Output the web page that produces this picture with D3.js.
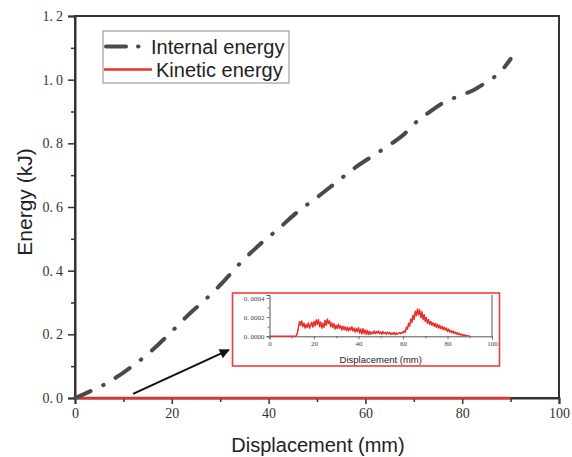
<!DOCTYPE html>
<html>
<head>
<meta charset="utf-8">
<script src="https://cdn.jsdelivr.net/npm/d3@7"></script>
<style>
  html, body { margin: 0; padding: 0; background: #fff; }
  svg { display: block; }
</style>
</head>
<body>
<svg id="chart" width="572" height="457"></svg>
<script>
// Internal energy vs displacement (kJ)
const internalDisp   = [0, 3, 6.5, 10, 14, 17, 19.6, 23, 27.2, 30, 34.1, 38, 41.7, 46, 50, 54.1, 58, 62.3, 65, 67.8, 70, 73.3, 75.8, 79, 82.3, 85.1, 87.1, 88.5, 90];
const internalEnergy = [0, 0.02, 0.046, 0.08, 0.125, 0.165, 0.203, 0.255, 0.313, 0.355, 0.423, 0.48, 0.527, 0.585, 0.63, 0.679, 0.725, 0.768, 0.795, 0.826, 0.86, 0.899, 0.925, 0.947, 0.967, 0.993, 1.014, 1.035, 1.065];

// Kinetic energy vs displacement, stored in units of 1e-4 kJ
const kineticDisp = [0, 11.5, 12, 12.5, 13, 13.5, 14, 14.5, 15, 15.5, 16, 16.5, 17, 17.5, 18, 18.5, 19, 19.5,
  20, 20.5, 21, 21.5, 22, 22.5, 23, 23.5, 24, 24.5, 25, 25.5, 26, 26.5, 27, 27.5, 28, 28.5, 29, 29.5,
  30, 30.5, 31, 31.5, 32, 32.5, 33, 33.5, 34, 34.5, 35, 35.5, 36, 36.5, 37, 37.5, 38, 38.5, 39, 39.5,
  40, 40.5, 41, 41.5, 42, 42.5, 43, 43.5, 44, 44.5, 45, 45.5, 46, 46.5, 47, 47.5, 48, 48.5, 49, 49.5,
  50, 50.5, 51, 51.5, 52, 52.5, 53, 53.5, 54, 54.5, 55, 55.5, 56, 56.5, 57, 57.5, 58, 58.5, 59, 59.5,
  60, 60.5, 61, 61.5, 62, 62.5, 63, 63.5, 64, 64.5, 65, 65.5, 66, 66.5, 67, 67.5, 68, 68.5, 69, 69.5,
  70, 70.5, 71, 71.5, 72, 72.5, 73, 73.5, 74, 74.5, 75, 75.5, 76, 76.5, 77, 77.5, 78, 78.5, 79, 79.5,
  80, 80.5, 81, 81.5, 82, 82.5, 83, 83.5, 84, 84.5, 85, 85.5, 86, 86.5, 87, 87.5, 88, 88.5, 89, 89.5, 90];
const kineticE4 = [0, 0, 0.05, 0.3, 0.9, 1.55, 1.15, 1.6, 1.0, 1.35, 0.85, 1.25, 0.95, 1.4, 0.85, 1.15, 1.45, 0.95,
  1.55, 1.1, 1.7, 1.25, 1.75, 1.0, 1.5, 0.85, 1.35, 0.95, 1.65, 1.15, 1.8, 1.35, 1.6, 1.0, 1.4, 0.9, 1.3, 0.75,
  1.15, 0.8, 1.25, 0.85, 1.1, 0.65, 1.05, 0.7, 1.0, 0.6, 0.95, 0.55, 0.9, 0.65, 1.0, 0.55, 0.85, 0.45, 0.8, 0.5,
  0.9, 0.35, 0.75, 0.25, 0.8, 0.3, 0.65, 0.2, 0.6, 0.18, 0.5, 0.22, 0.45, 0.28, 0.55, 0.28, 0.5, 0.32, 0.55, 0.28,
  0.45, 0.22, 0.5, 0.28, 0.4, 0.22, 0.45, 0.28, 0.4, 0.18, 0.35, 0.22, 0.4, 0.18, 0.35, 0.22, 0.32, 0.38, 0.28, 0.42,
  0.35, 0.55, 0.42, 0.95, 0.75, 1.35, 1.05, 1.8, 1.45, 2.2, 1.75, 2.6, 2.15, 2.85, 2.25, 2.75, 1.95, 2.55, 1.75, 2.25,
  1.55, 1.95, 1.35, 1.75, 1.25, 1.55, 1.15, 1.4, 1.05, 1.35, 0.95, 1.25, 0.85, 1.15, 0.8, 1.05, 0.7, 0.95, 0.65, 0.85,
  0.5, 0.75, 0.45, 0.6, 0.35, 0.55, 0.3, 0.45, 0.22, 0.38, 0.18, 0.28, 0.12, 0.22, 0.08, 0.16, 0.06, 0.1, 0.05, 0.03, 0];

// Axis ticks
const xMajor = [0, 20, 40, 60, 80, 100];
const xMinor = [10, 30, 50, 70, 90];
const yMajor = [0, 0.2, 0.4, 0.6, 0.8, 1.0, 1.2];
const yMinor = [0.1, 0.3, 0.5, 0.7, 0.9, 1.1];
const insetYMajor = [0, 0.0002, 0.0004];
const insetYMinor = [0.0001, 0.0003];

const seriesNames = ["Internal energy", "Kinetic energy"];
const xTitle = "Displacement (mm)";
const yTitle = "Energy (kJ)";

const axisColor = "#333";
const internalColor = "#4a4a4a";
const kineticColor = "#e8312b";
const serif = "'Liberation Serif', 'DejaVu Serif', serif";
const sans = "'Liberation Sans', Arial, sans-serif";

const svg = d3.select("#chart");

// ---------- main panel ----------
const x = d3.scaleLinear().domain([0, 100]).range([75, 559]);
const y = d3.scaleLinear().domain([0, 1.2]).range([398, 16]);

const internalPts = internalDisp.map((d, i) => [d, internalEnergy[i]]);
const kineticPts = kineticDisp.map((d, i) => [d, kineticE4[i] * 1e-4]);

// Tick label with a widened decimal point
function spacedLabel(sel, fmt) {
  sel.each(function(d) {
    const t = d3.select(this);
    const s = fmt(d);
    const parts = s.split(".");
    t.text(null);
    if (parts.length === 2) {
      t.append("tspan").text(parts[0] + ".");
      t.append("tspan").attr("dx", "0.22em").text(parts[1]);
    } else {
      t.text(s);
    }
  });
}

// frame
svg.append("rect")
  .attr("x", x(0)).attr("y", y(1.2))
  .attr("width", x(100) - x(0)).attr("height", y(0) - y(1.2))
  .attr("fill", "none").attr("stroke", axisColor).attr("stroke-width", 2);

// x axis
const gx = svg.append("g").attr("transform", `translate(0,${y(0)})`)
  .call(d3.axisBottom(x).tickValues(xMajor).tickSize(6).tickPadding(4).tickFormat(d3.format("d")));
svg.append("g").attr("transform", `translate(0,${y(0)})`)
  .call(d3.axisBottom(x).tickValues(xMinor).tickSize(4).tickFormat(""))
  .call(g => g.select(".domain").remove());

// y axis
const gy = svg.append("g").attr("transform", `translate(${x(0)},0)`)
  .call(d3.axisLeft(y).tickValues(yMajor).tickSize(7).tickPadding(5).tickFormat(d3.format(".1f")));
svg.append("g").attr("transform", `translate(${x(0)},0)`)
  .call(d3.axisLeft(y).tickValues(yMinor).tickSize(4).tickFormat(""))
  .call(g => g.select(".domain").remove());

svg.selectAll(".domain").attr("stroke", axisColor).attr("stroke-width", 2);
svg.selectAll(".tick line").attr("stroke", axisColor).attr("stroke-width", 1.5);
gx.selectAll(".tick text").attr("font-family", serif).attr("font-size", 14).attr("fill", "#333");
gy.selectAll(".tick text").attr("font-family", serif).attr("font-size", 14).attr("fill", "#333")
  .call(spacedLabel, d3.format(".1f"));

// axis titles
svg.append("text").attr("x", (x(0) + x(100)) / 2 + 1).attr("y", 452)
  .attr("text-anchor", "middle").attr("font-family", sans).attr("font-size", 20).attr("fill", "#222")
  .text(xTitle);
svg.append("text").attr("transform", `translate(32,${(y(0) + y(1.2)) / 2 - 5}) rotate(-90)`)
  .attr("text-anchor", "middle").attr("font-family", sans).attr("font-size", 21).attr("fill", "#222")
  .text(yTitle);

// series lines
const line = d3.line().x(d => x(d[0])).y(d => y(d[1]));
svg.append("path").datum(kineticPts).attr("d", line)
  .attr("fill", "none").attr("stroke", kineticColor).attr("stroke-width", 2.5);
svg.append("path").datum(internalPts).attr("d", line.curve(d3.curveMonotoneX))
  .attr("fill", "none").attr("stroke", internalColor).attr("stroke-width", 4)
  .attr("stroke-linecap", "round").attr("stroke-dasharray", "17,14,0.5,14");

// legend
const lg = svg.append("g");
lg.append("rect").attr("x", 103).attr("y", 31).attr("width", 186).attr("height", 52)
  .attr("fill", "#fff").attr("stroke", "#8a8a8a").attr("stroke-width", 1);
lg.append("line").attr("x1", 106).attr("x2", 146).attr("y1", 46.5).attr("y2", 46.5)
  .attr("stroke", internalColor).attr("stroke-width", 4).attr("stroke-linecap", "round")
  .attr("stroke-dasharray", "20,12,0.5,30");
lg.append("text").attr("x", 151).attr("y", 53.5).attr("font-family", sans).attr("font-size", 20)
  .attr("fill", "#222").text(seriesNames[0]);
lg.append("line").attr("x1", 104).attr("x2", 152).attr("y1", 69.5).attr("y2", 69.5)
  .attr("stroke", kineticColor).attr("stroke-width", 2.5);
lg.append("text").attr("x", 156).attr("y", 76.5).attr("font-family", sans).attr("font-size", 20)
  .attr("fill", "#222").text(seriesNames[1]);

// arrow pointing from the zero line to the inset
svg.append("defs").append("marker").attr("id", "arrowhead")
  .attr("viewBox", "0 0 10 10").attr("refX", 9).attr("refY", 5)
  .attr("markerWidth", 6).attr("markerHeight", 5).attr("markerUnits", "strokeWidth")
  .attr("orient", "auto")
  .append("path").attr("d", "M0,0 L10,5 L0,10 Z").attr("fill", "#111");
svg.append("line")
  .attr("x1", x(12)).attr("y1", y(0.013))
  .attr("x2", x(31.8)).attr("y2", y(0.151))
  .attr("stroke", "#111").attr("stroke-width", 2).attr("marker-end", "url(#arrowhead)");

// ---------- inset: kinetic energy detail ----------
svg.append("rect").attr("x", 232.5).attr("y", 293).attr("width", 267).attr("height", 73)
  .attr("fill", "#fff").attr("stroke", "#ef3e3a").attr("stroke-width", 1.6);

const ix = d3.scaleLinear().domain([0, 100]).range([269.5, 492]);
const iy = d3.scaleLinear().domain([0, 0.00043]).range([336.3, 295]);
const inset = svg.append("g");

inset.append("g").attr("transform", `translate(0,${iy(0)})`)
  .call(d3.axisBottom(ix).tickValues(xMajor).tickSize(3).tickPadding(2).tickFormat(d3.format("d")));
inset.append("g").attr("transform", `translate(0,${iy(0)})`)
  .call(d3.axisBottom(ix).tickValues(xMinor).tickSize(2).tickFormat(""))
  .call(g => g.select(".domain").remove());
const iyAxis = inset.append("g").attr("transform", `translate(${ix(0)},0)`)
  .call(d3.axisLeft(iy).tickValues(insetYMajor).tickSize(3).tickPadding(2).tickFormat(d3.format(".4f")));
inset.append("g").attr("transform", `translate(${ix(0)},0)`)
  .call(d3.axisLeft(iy).tickValues(insetYMinor).tickSize(2).tickFormat(""))
  .call(g => g.select(".domain").remove());
inset.append("line").attr("x1", ix(100)).attr("x2", ix(100)).attr("y1", iy(0.00043)).attr("y2", iy(0))
  .attr("stroke", "#555").attr("stroke-width", 1);

inset.selectAll(".domain").attr("stroke", "#555").attr("stroke-width", 1);
inset.selectAll(".tick line").attr("stroke", "#555").attr("stroke-width", 0.8);
inset.selectAll(".tick text").attr("font-family", serif).attr("font-size", 7).attr("fill", "#444");
iyAxis.selectAll(".tick text").call(spacedLabel, d3.format(".4f"));

inset.append("text").attr("x", (ix(0) + ix(100)) / 2).attr("y", 362.5)
  .attr("text-anchor", "middle").attr("font-family", sans).attr("font-size", 9.5).attr("fill", "#222")
  .text(xTitle);

const iline = d3.line().x(d => ix(d[0])).y(d => iy(d[1]));
inset.append("path").datum(kineticPts).attr("d", iline)
  .attr("fill", "none").attr("stroke", kineticColor).attr("stroke-width", 1.5)
  .attr("stroke-linejoin", "round");
</script>
</body>
</html>
